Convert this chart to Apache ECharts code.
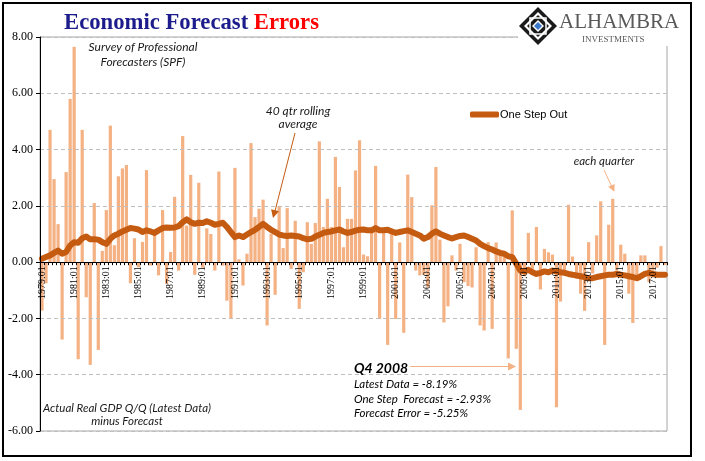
<!DOCTYPE html>
<html>
<head>
<meta charset="utf-8">
<script src="https://cdn.jsdelivr.net/npm/echarts@6/dist/echarts.min.js"></script>
<style>
html,body{margin:0;padding:0;background:#fff;}
#chart{width:705px;height:461px;}
</style>
</head>
<body>
<div id="chart"></div>
<script>
// Quarters 1979:01 .. 2017:04
var startYear = 1979, endYear = 2017;
var categories = [];
for (var y = startYear; y <= endYear; y++) {
  for (var q = 1; q <= 4; q++) categories.push(y + ':0' + q);
}

// Forecast error (Actual real GDP Q/Q minus forecast), each quarter
var forecastError = [
  -1.72,-0.75,4.70,2.95,1.35,-2.75,3.20,5.80,7.65,-3.45,
  4.70,-1.25,-3.65,2.10,-3.12,0.40,1.85,4.85,0.60,3.05,
  3.33,3.45,-0.75,0.85,-0.18,0.72,3.27,-0.12,1.07,-0.47,
  1.85,-0.77,0.36,2.32,-0.30,4.48,1.30,3.10,-0.45,2.82,
  -0.20,1.20,1.00,-0.30,3.22,-0.12,-1.37,-2.02,3.35,0.10,
  -0.83,0.30,
  4.23,1.60,1.90,2.22,-2.25,1.00,-1.16,2.00,0.50,1.92,
  -0.24,1.47,-1.66,-0.36,1.42,0.65,1.39,4.29,1.25,2.25,
  1.25,3.74,2.67,0.53,1.54,1.54,3.26,4.33,0.27,0.21,
  1.20,3.42,-2.02,1.20,-2.94,1.20,-2.02,0.70,-2.51,3.11,
  2.31,-0.30,-0.47,-0.45,-0.90,2.02,3.38,0.80,-2.14,-1.57,
  0.24,
  -0.30,0.65,-0.71,-0.85,-0.90,0.53,-2.25,-2.43,0.71,-2.37,
  0.70,0.30,0.35,-3.42,1.84,-3.08,-5.25,-0.50,1.04,-0.40,
  1.25,-0.97,0.47,0.35,0.27,-5.16,-1.40,-0.30,2.04,0.20,
  -0.60,-1.12,-1.73,0.71,-0.40,0.95,2.16,-2.94,1.33,2.25,
  -0.30,0.62,0.30,-1.12,-2.16,-0.50,0.24,0.24,-0.71,-0.30,
  -0.20,0.57,-0.10
];

// One Step Out: 40 qtr rolling average
var rollingAvg = [
  0.12,0.18,0.24,0.33,0.41,0.30,0.36,0.59,0.71,0.69,
  0.85,0.91,0.81,0.81,0.80,0.71,0.65,0.83,0.95,1.01,
  1.09,1.15,1.21,1.19,1.16,1.07,1.13,1.09,1.04,1.13,
  1.21,1.23,1.22,1.23,1.28,1.42,1.52,1.42,1.36,1.40,
  1.39,1.45,1.40,1.33,1.36,1.40,1.25,1.07,0.89,0.95,
  0.89,0.98,
  1.07,1.15,1.25,1.36,1.25,1.15,1.07,0.98,0.95,0.93,
  0.95,0.93,0.91,0.85,0.81,0.83,0.91,0.97,1.04,1.07,
  1.09,1.13,1.16,1.09,1.04,1.07,1.12,1.15,1.16,1.13,
  1.13,1.21,1.13,1.13,1.15,1.09,1.04,1.07,1.10,1.13,
  1.07,1.01,0.95,0.83,0.89,1.01,1.09,1.01,0.95,0.89,
  0.84,
  0.89,0.93,0.95,0.89,0.83,0.77,0.65,0.57,0.50,0.45,
  0.38,0.33,0.30,0.21,0.18,-0.06,-0.30,-0.33,-0.27,-0.36,
  -0.42,-0.38,-0.33,-0.36,-0.30,-0.33,-0.36,-0.38,-0.42,-0.45,
  -0.47,-0.50,-0.53,-0.57,-0.57,-0.53,-0.50,-0.47,-0.45,-0.45,
  -0.42,-0.45,-0.47,-0.50,-0.53,-0.57,-0.50,-0.42,-0.38,-0.42,
  -0.45,-0.45,-0.45
];

var yTicks = {min: -6, max: 8, interval: 2};

var W = 705, H = 461;
var gridBox = {left: 40, right: 38, top: 37, bottom: 30};
var plotH = H - gridBox.top - gridBox.bottom;
// move the category axis up from the bottom of the plot to the zero line
var zeroOffset = -plotH * (0 - yTicks.min) / (yTicks.max - yTicks.min);

var chart = echarts.init(document.getElementById('chart'), null, {renderer: 'canvas'});
var ital = 'Lato, "Open Sans", sans-serif';

var option = {
  backgroundColor: '#fff',
  animation: false,
  title: {
    text: '{a|Economic Forecast }{b|Errors}',
    left: 59, top: 7,
    textStyle: {
      rich: {
        a: {fontFamily: '"Liberation Serif", serif', fontSize: 22.7, color: '#1c1c8c'},
        b: {fontFamily: '"Liberation Serif", serif', fontSize: 22.7, fontWeight: 'bold', color: '#ff0000'}
      }
    }
  },
  legend: {
    data: ['One Step Out'],
    left: 465, top: 104,
    itemWidth: 29, itemHeight: 6, itemGap: 4,
    icon: 'roundRect',
    textStyle: {fontFamily: '"Liberation Sans", Arial, sans-serif', fontSize: 11, color: '#000', padding: [0,0,0,-4]}
  },
  grid: {
    left: gridBox.left, right: gridBox.right, top: gridBox.top, bottom: gridBox.bottom,
    containLabel: false, outerBoundsMode: 'none',
    show: true, borderColor: '#a6a6a6', borderWidth: 1, backgroundColor: 'transparent'
  },
  xAxis: {
    type: 'category',
    data: categories,
    boundaryGap: true,
    position: 'bottom',
    offset: zeroOffset,
    z: 10,
    axisLine: {onZero: false, lineStyle: {color: '#000', width: 1}},
    axisTick: {show: true, interval: 0, length: 3, lineStyle: {color: '#000'}},
    axisLabel: {
      interval: 7, rotate: 90, margin: 4,
      fontFamily: '"Liberation Serif", serif', fontSize: 10, color: '#000'
    },
    splitLine: {show: false}
  },
  yAxis: {
    type: 'value',
    min: yTicks.min, max: yTicks.max, interval: yTicks.interval,
    z: 10,
    axisLine: {show: true, lineStyle: {color: '#000', width: 1}},
    axisTick: {show: true, length: 4, lineStyle: {color: '#000'}},
    axisLabel: {
      formatter: function (v) { return v.toFixed(2); },
      fontFamily: '"Liberation Serif", serif', fontSize: 12, color: '#000', margin: 7
    },
    splitLine: {show: true, lineStyle: {color: '#bfbfbf', type: [4, 3], width: 1}}
  },
  series: [
    {
      name: 'Forecast Error',
      type: 'bar',
      data: forecastError,
      barWidth: '80%',
      itemStyle: {color: '#f4b183'},
      z: 2
    },
    {
      name: 'One Step Out',
      type: 'line',
      data: rollingAvg,
      symbol: 'none',
      smooth: false,
      lineStyle: {color: '#c55a11', width: 6, join: 'round', cap: 'round'},
      itemStyle: {color: '#c55a11'},
      z: 3
    }
  ],
  graphic: [
    // outer frame
    {type: 'rect', shape: {x: 3, y: 3, width: 688, height: 453}, style: {fill: 'none', stroke: '#000', lineWidth: 2}, z: 100},
    // logo area
    {type: 'rect', shape: {x: 518, y: 4, width: 172, height: 42}, style: {fill: '#fff'}, z: 50},
    {type: 'polygon', shape: {points: [[538,7],[557,26],[538,45],[519,26]]}, style: {fill: '#1a1a1a'}, z: 51},
    {type: 'polygon', shape: {points: [[538,12],[552,26],[538,40],[524,26]]}, style: {fill: '#fff'}, z: 52},
    {type: 'polygon', shape: {points: [[538,15],[549,26],[538,37],[527,26]]}, style: {fill: '#1a1a1a'}, z: 53},
    {type: 'rect', shape: {x: 530, y: 18, width: 16, height: 16}, style: {fill: 'none', stroke: '#fff', lineWidth: 1.5}, z: 54},
    {type: 'polygon', shape: {points: [[538,20],[544,26],[538,32],[532,26]]}, style: {fill: '#fff'}, z: 55},
    {type: 'polygon', shape: {points: [[538,22],[542,26],[538,30],[534,26]]}, style: {fill: '#3a78c9'}, z: 56},
    {type: 'text', left: 559, top: 12, style: {text: 'ALHAMBRA', fontFamily: '"Liberation Serif", serif', fontSize: 21, fill: '#595959'}, z: 57},
    {type: 'text', left: 582, top: 35, style: {text: 'INVESTMENTS', fontFamily: '"Liberation Serif", serif', fontSize: 9, fill: '#595959', letterSpacing: 0.6}, z: 57},
    // annotations
    {type: 'text', x: 143, y: 47, style: {text: 'Survey of Professional', fontFamily: ital, fontStyle: 'italic', fontSize: 12, fill: '#1a1a1a', align: 'center', verticalAlign: 'middle'}, z: 20},
    {type: 'text', x: 143, y: 62, style: {text: 'Forecasters (SPF)', fontFamily: ital, fontStyle: 'italic', fontSize: 12, fill: '#1a1a1a', align: 'center', verticalAlign: 'middle'}, z: 20},
    {type: 'text', x: 298, y: 111, style: {text: '40 qtr rolling', fontFamily: ital, fontStyle: 'italic', fontSize: 12, fill: '#1a1a1a', align: 'center', verticalAlign: 'middle'}, z: 20},
    {type: 'text', x: 298, y: 124, style: {text: 'average', fontFamily: ital, fontStyle: 'italic', fontSize: 12, fill: '#1a1a1a', align: 'center', verticalAlign: 'middle'}, z: 20},
    {type: 'line', shape: {x1: 295, y1: 133, x2: 275, y2: 211}, style: {stroke: '#c55a11', lineWidth: 1}, z: 20},
    {type: 'polygon', shape: {points: [[273,218],[278.9,211.3],[271.1,209.3]]}, style: {fill: '#c55a11'}, z: 20},
    {type: 'text', x: 604, y: 161, style: {text: 'each quarter', fontFamily: ital, fontStyle: 'italic', fontSize: 11.5, fill: '#1a1a1a', align: 'center', verticalAlign: 'middle'}, z: 20},
    {type: 'line', shape: {x1: 604, y1: 170, x2: 611.5, y2: 186}, style: {stroke: '#f4b183', lineWidth: 1}, z: 20},
    {type: 'polygon', shape: {points: [[614.3,191.7],[614.6,183.9],[608.2,186.8]]}, style: {fill: '#f4b183'}, z: 20},
    {type: 'text', x: 127, y: 408, style: {text: 'Actual Real GDP Q/Q (Latest Data)', fontFamily: ital, fontStyle: 'italic', fontSize: 11.5, fill: '#1a1a1a', align: 'center', verticalAlign: 'middle'}, z: 20},
    {type: 'text', x: 127, y: 421, style: {text: 'minus Forecast', fontFamily: ital, fontStyle: 'italic', fontSize: 11.5, fill: '#1a1a1a', align: 'center', verticalAlign: 'middle'}, z: 20},
    {type: 'text', x: 354, y: 368, style: {text: 'Q4 2008', fontFamily: ital, fontStyle: 'italic', fontWeight: 'bold', fontSize: 14, fill: '#000', align: 'left', verticalAlign: 'middle'}, z: 20},
    {type: 'line', shape: {x1: 410, y1: 366.5, x2: 509, y2: 366.5}, style: {stroke: '#f4b183', lineWidth: 1}, z: 20},
    {type: 'polygon', shape: {points: [[516,366.5],[508,362.5],[508,370.5]]}, style: {fill: '#f4b183'}, z: 20},
    {type: 'text', x: 354, y: 384, style: {text: 'Latest Data = -8.19%', fontFamily: ital, fontStyle: 'italic', fontSize: 11.5, fill: '#000', align: 'left', verticalAlign: 'middle'}, z: 20},
    {type: 'text', x: 354, y: 399, style: {text: 'One Step  Forecast = -2.93%', fontFamily: ital, fontStyle: 'italic', fontSize: 11.5, fill: '#000', align: 'left', verticalAlign: 'middle'}, z: 20},
    {type: 'text', x: 354, y: 413, style: {text: 'Forecast Error = -5.25%', fontFamily: ital, fontStyle: 'italic', fontSize: 11.5, fill: '#000', align: 'left', verticalAlign: 'middle'}, z: 20}
  ]
};
chart.setOption(option);
</script>
</body>
</html>
